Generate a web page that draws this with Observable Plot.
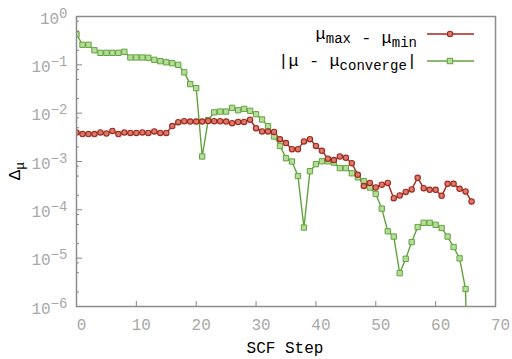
<!DOCTYPE html>
<html><head><meta charset="utf-8">
<script src="https://cdn.jsdelivr.net/npm/d3@7"></script>
<script src="https://cdn.jsdelivr.net/npm/@observablehq/plot@0.6"></script>
<style>body{margin:0;background:#fff}</style>
</head><body><div id="chart"></div>
<script>
// SCF steps and values
const stepsRed = [0,1,2,3,4,5,6,7,8,9,10,11,12,13,14,15,16,17,18,19,20,21,22,23,24,25,26,27,28,29,30,31,32,33,34,35,36,37,38,39,40,41,42,43,44,45,46,47,48,49,50,51,52,53,54,55,56,57,58,59,60,61,62,63,64,65,66];
const spreadValues = [0.0040,0.0037,0.0037,0.0037,0.0040,0.0038,0.0043,0.0037,0.0040,0.0039,0.0039,0.0040,0.0039,0.0042,0.0039,0.0039,0.0054,0.0065,0.0068,0.0067,0.0067,0.0067,0.0069,0.0068,0.0068,0.0067,0.0062,0.0066,0.0066,0.0073,0.0049,0.0042,0.0042,0.0041,0.0029,0.0024,0.0018,0.0018,0.0026,0.0029,0.0021,0.00166,0.00114,0.00107,0.00127,0.00119,0.00092,0.00053,0.00031,0.00036,0.00029,0.00033,0.00036,0.000174,0.000198,0.000235,0.000265,0.00046,0.00028,0.00026,0.00026,0.000195,0.000345,0.000345,0.000272,0.00024,0.000149];
const stepsGreen = [0,1,2,3,4,5,6,7,8,9,10,11,12,13,14,15,16,17,18,19,20,21,22,23,24,25,26,27,28,29,30,31,32,33,34,35,36,37,38,39,40,41,42,43,44,45,46,47,48,49,50,51,52,53,54,55,56,57,58,59,60,61,62,63,64,65,66];
const convergeValues = [0.43,0.26,0.26,0.20,0.177,0.177,0.177,0.177,0.186,0.142,0.142,0.142,0.140,0.127,0.119,0.113,0.108,0.100,0.070,0.040,0.033,0.00127,0.0072,0.0104,0.0108,0.0108,0.0129,0.0115,0.0123,0.0112,0.0095,0.0074,0.0054,0.0033,0.0021,0.00117,0.00100,0.00050,0.000043,0.00063,0.00088,0.00101,0.00101,0.00095,0.00073,0.00073,0.00057,0.00047,0.00039,0.00029,0.000213,0.000106,0.000036,0.000028,0.0000049,0.0000097,0.0000215,0.000044,0.000054,0.000054,0.000049,0.000042,0.000028,0.000017,0.0000099,0.0000023,1e-12];
const xTicks = [0,10,20,30,40,50,60,70];
const yTicks = [1e-6,1e-5,1e-4,1e-3,1e-2,1e-1,1];
const yMinorTicks = [2e-6,5e-6,8e-6,2e-5,5e-5,8e-5,2e-4,5e-4,8e-4,2e-3,5e-3,8e-3,2e-2,5e-2,8e-2,0.2,0.5,0.8];

const redData = stepsRed.map((s,i)=>({step:s, v:spreadValues[i]}));
const greenData = stepsGreen.map((s,i)=>({step:s, v:convergeValues[i]}));

const W=512, H=359, mL=76, mT=16, mR=17, mB=53;
const frameH = H-mT-mB, frameW = W-mL-mR;
const RED="#a0281e", REDFILL="#d97a6c", GREEN="#62a33e", GREENFILL="#b6dc9a";
const FONT="Liberation Mono, Courier New, monospace";

const plot = Plot.plot({
  width: W, height: H, marginLeft: mL, marginTop: mT, marginRight: mR, marginBottom: mB,
  style: {fontFamily: FONT, background: "#fff", overflow: "visible"},
  x: {domain: [0,70]},
  y: {type: "log", domain: [1e-6, 1]},
  marks: [
    Plot.ruleX(xTicks.slice(1,-1), {x: d=>d, insetTop: frameH-5, stroke: "#888", strokeWidth: 1}),
    Plot.ruleY(yTicks.slice(1,-1), {y: d=>d, insetRight: frameW-6, stroke: "#888", strokeWidth: 1}),
    Plot.ruleY(yMinorTicks, {y: d=>d, insetRight: frameW-3, stroke: "#888", strokeWidth: 1}),
    Plot.axisX({ticks: xTicks, tickSize: 0, tickPadding: 12, dx: 5, fontSize: 16, color: "#a8a8a8", label: null, tickFormat: d=>String(d)}),
    Plot.axisY({ticks: yTicks, tickSize: 0, tickPadding: 9, dy: 2, fontSize: 16, color: "#a8a8a8", label: null, tickFormat: d=>String(Math.round(Math.log10(d)))}),
    Plot.line(greenData, {x: "step", y: "v", stroke: GREEN, strokeWidth: 1.4, clip: true}),
    Plot.line(redData, {x: "step", y: "v", stroke: RED, strokeWidth: 1.4, clip: true}),
    Plot.dot(greenData, {x: "step", y: "v", symbol: "square", r: 3, stroke: GREEN, fill: GREENFILL, strokeWidth: 1, clip: true}),
    Plot.dot(redData, {x: "step", y: "v", symbol: "circle", r: 2.7, stroke: RED, fill: REDFILL, strokeWidth: 1.1, clip: true}),
    Plot.frame({stroke: "#8c8c8c", strokeWidth: 1.5})
  ]
});
document.getElementById("chart").appendChild(plot);

const svg = d3.select(plot);
// superscript tick labels 10^n
svg.selectAll('g[aria-label="y-axis tick label"] text').each(function(){
  const t = d3.select(this);
  const e = t.text().replace("-", "\u2212");
  t.text("");
  t.append("tspan").text("10");
  t.append("tspan").attr("dy", "-6").attr("font-size", 14).text(e);
});

// y-axis label Δ_μ
const yl = svg.append("text").attr("transform", "translate(20,171) rotate(-90)")
  .attr("font-family", FONT).attr("font-size", 17).attr("fill", "#000");
yl.append("tspan").text("\u0394");
yl.append("tspan").attr("dy", 4).attr("font-size", 13).text("\u03bc");

// x-axis label
svg.append("text").attr("x", 285).attr("y", 353).attr("text-anchor", "middle")
  .attr("font-family", FONT).attr("font-size", 16).attr("fill", "#000").text("SCF Step");

// legend
const legend = [
  {y: 34, parts: [["\u03bc",0],["max",1],[" - ",0],["\u03bc",0],["min",1]], color: RED, fill: REDFILL, sym: "circle"},
  {y: 61, parts: [["|\u03bc - ",0],["\u03bc",0],["converge",1],["|",2]], color: GREEN, fill: GREENFILL, sym: "square"}
];
legend.forEach(row => {
  const t = svg.append("text").attr("x", 417).attr("y", row.y + 5).attr("text-anchor", "end")
    .attr("font-family", FONT).attr("font-size", 17).attr("fill", "#000");
  row.parts.forEach(([s, k]) => {
    const sp = t.append("tspan").text(s);
    if (k === 1) sp.attr("font-size", 14).attr("dy", 4);
    if (k === 2) sp.attr("dy", -4);
  });
  svg.append("line").attr("x1", 427).attr("x2", 474).attr("y1", row.y).attr("y2", row.y)
    .attr("stroke", row.color).attr("stroke-width", 1.4);
  if (row.sym === "circle") {
    svg.append("circle").attr("cx", 450).attr("cy", row.y).attr("r", 2.7)
      .attr("stroke", row.color).attr("fill", row.fill).attr("stroke-width", 1.1);
  } else {
    svg.append("rect").attr("x", 447.3).attr("y", row.y-2.7).attr("width", 5.4).attr("height", 5.4)
      .attr("stroke", row.color).attr("fill", row.fill).attr("stroke-width", 1);
  }
});
</script>
</body></html>
